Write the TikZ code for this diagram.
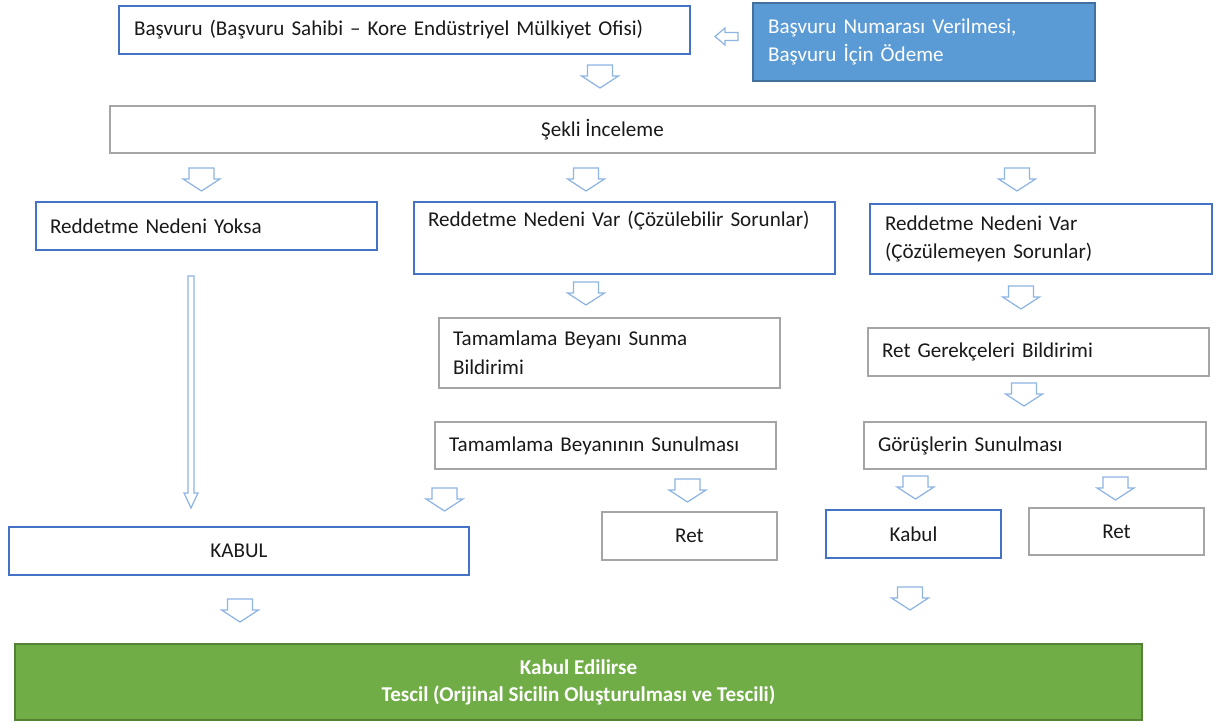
\documentclass[tikz,border=0pt]{standalone}
\usepackage{fontspec}
\setmainfont{Carlito}
\definecolor{boxblue}{HTML}{4472C4}
\definecolor{boxgray}{HTML}{A5A5A5}
\definecolor{arrowblue}{HTML}{8EB4E3}
\definecolor{fillblue}{HTML}{5B9BD5}
\definecolor{edgeblue}{HTML}{41719C}
\definecolor{fillgreen}{HTML}{70AD47}
\definecolor{edgegreen}{HTML}{548235}
\tikzset{
    box/.style={draw, line width=0.8pt, inner sep=0pt, text=black!90, font=\fontsize{12}{16.4}\selectfont},
    bluebox/.style={box, draw=boxblue},
    graybox/.style={box, draw=boxgray},
    lefttext/.style={align=left, text width=#1},
    arrowline/.style={draw=arrowblue, line width=0.7pt, fill=white},
    downarrow/.pic={\draw[arrowline] (-12.5,0) -- (12.5,0) -- (12.5,11) -- (18.5,11) -- (0,23) -- (-18.5,11) -- (-12.5,11) -- cycle;}
}

\begin{document}
\begin{tikzpicture}[x=0.02cm, y=-0.02cm]
    \useasboundingbox (0,0) rectangle (1214,722);

    % Top row
    \node[bluebox, minimum width=11.42cm, minimum height=0.96cm, lefttext=10.82cm] (basvuru) at (404.5,30) {Başvuru (Başvuru Sahibi – Kore Endüstriyel Mülkiyet Ofisi)};
    \node[box, draw=edgeblue, fill=fillblue, text=white, minimum width=6.84cm, minimum height=1.56cm, lefttext=6.24cm] (numara) at (924,42) {Başvuru Numarası Verilmesi,\\Başvuru İçin Ödeme};
    \node[graybox, minimum width=19.7cm, minimum height=0.94cm] (sekli) at (602.5,129.5) {Şekli İnceleme};

    % Three branches
    \node[bluebox, minimum width=6.82cm, minimum height=0.96cm, lefttext=6.26cm] (yoksa) at (206.5,226) {Reddetme Nedeni Yoksa};
    \node[bluebox, minimum width=8.42cm, minimum height=1.44cm, lefttext=7.86cm] (cozulebilir) at (624.5,238) {Reddetme Nedeni Var (Çözülebilir Sorunlar)\\\strut};
    \node[bluebox, minimum width=6.84cm, minimum height=1.40cm, lefttext=6.24cm] (cozulemeyen) at (1041,239) {Reddetme Nedeni Var\\(Çözülemeyen Sorunlar)};

    % Middle column
    \node[graybox, minimum width=6.82cm, minimum height=1.40cm, lefttext=6.26cm] (bildirim) at (609.5,353) {Tamamlama Beyanı Sunma\\Bildirimi};
    \node[graybox, minimum width=6.82cm, minimum height=0.94cm, lefttext=6.26cm] (sunulmasi) at (605.5,445.5) {Tamamlama Beyanının Sunulması};

    % Right column
    \node[graybox, minimum width=6.82cm, minimum height=0.96cm, lefttext=6.26cm] (gerekce) at (1038.5,352) {Ret Gerekçeleri Bildirimi};
    \node[graybox, minimum width=6.84cm, minimum height=0.94cm, lefttext=6.28cm] (gorus) at (1035,445.5) {Görüşlerin Sunulması};

    % Results
    \node[bluebox, minimum width=9.2cm, minimum height=0.96cm] (kabulA) at (239,551) {KABUL};
    \node[graybox, minimum width=3.5cm, minimum height=0.96cm] (retA) at (689.5,536) {Ret};
    \node[bluebox, minimum width=3.5cm, minimum height=0.96cm] (kabulB) at (913.5,534) {Kabul};
    \node[graybox, minimum width=3.5cm, minimum height=0.94cm] (retB) at (1116.5,531.5) {Ret};

    % Registration
    \node[box, draw=edgegreen, fill=fillgreen, text=white, align=center, minimum width=22.54cm, minimum height=1.52cm, font=\fontsize{12}{15.3}\selectfont\bfseries] (tescil) at (578.5,682) {Kabul Edilirse\\Tescil (Orijinal Sicilin Oluşturulması ve Tescili)};

    % Block arrows
    \pic at (600,65) {downarrow};
    \pic at (201.5,168) {downarrow};
    \pic at (586,168) {downarrow};
    \pic at (1017,168) {downarrow};
    \pic at (586,282) {downarrow};
    \pic at (1021,286) {downarrow};
    \pic at (1024,383) {downarrow};
    \pic at (444.5,488) {downarrow};
    \pic at (687.5,479) {downarrow};
    \pic at (915.5,476) {downarrow};
    \pic at (1115.5,477) {downarrow};
    \pic at (240,599) {downarrow};
    \pic at (910,587) {downarrow};

    % Long arrow and left arrow
    \draw[arrowline] (188,276) -- (194,276) -- (194,493) -- (198,493) -- (191,508) -- (184,493) -- (188,493) -- cycle;
    \draw[arrowline] (738,32.5) -- (725,32.5) -- (725,28) -- (715,36.5) -- (725,45) -- (725,40.5) -- (738,40.5) -- cycle;
\end{tikzpicture}
\end{document}
